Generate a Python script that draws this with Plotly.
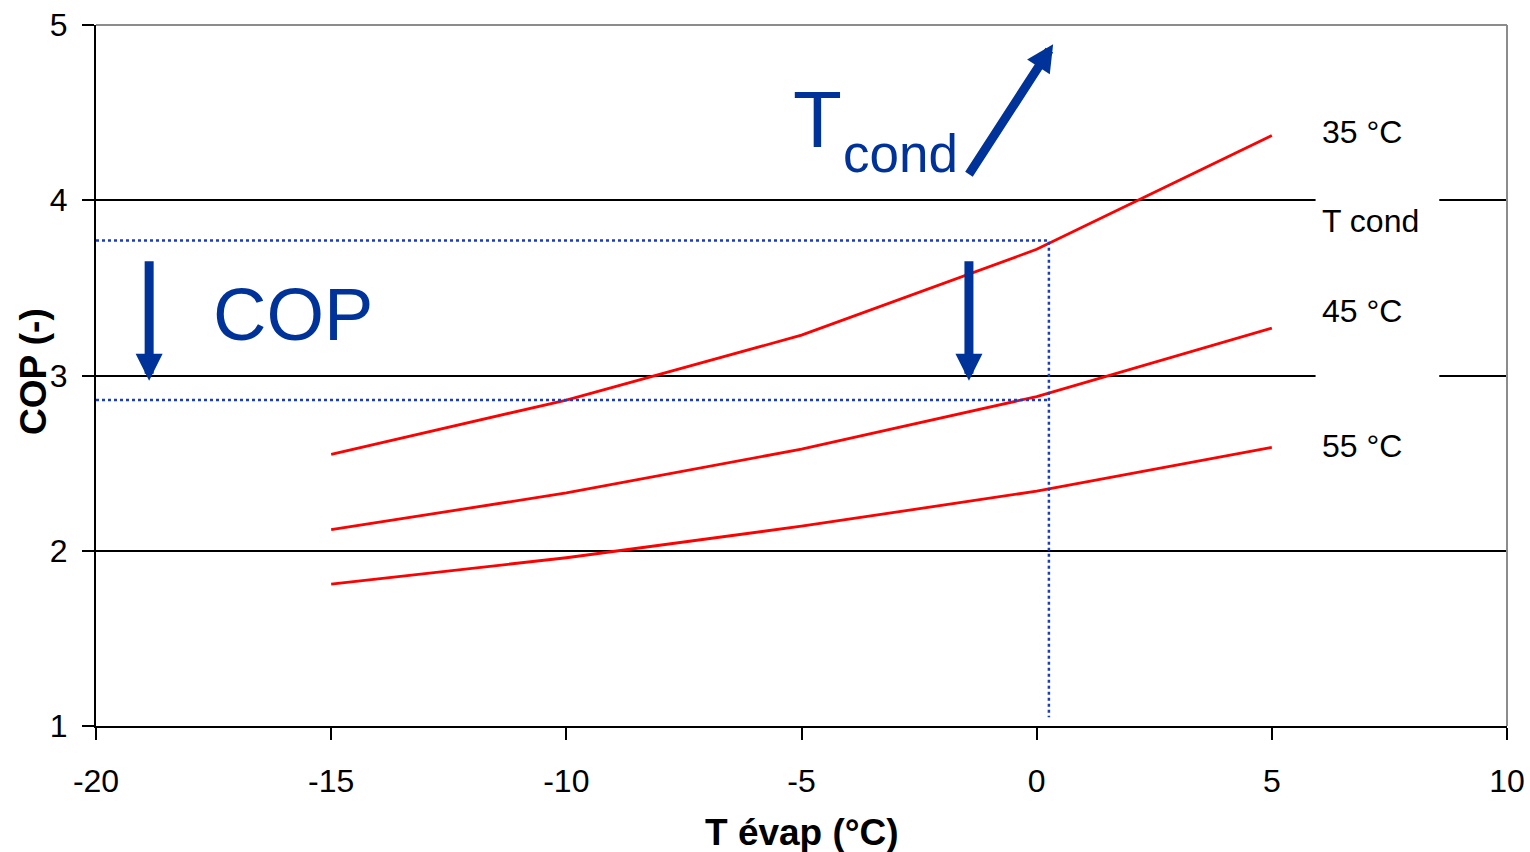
import plotly.graph_objects as go

t_evap = [-15, -10, -5, 0, 5]
cop_35 = [2.55, 2.86, 3.23, 3.72, 4.37]
cop_45 = [2.12, 2.33, 2.58, 2.88, 3.27]
cop_55 = [1.81, 1.96, 2.14, 2.34, 2.59]
series_labels = ["35 °C", "45 °C", "55 °C"]
label_y = [4.39, 3.37, 2.60]

x_ticks = [-20, -15, -10, -5, 0, 5, 10]
x_ticktext = ["-20", "-15", "-10", "-5", "0", "5", "10"]
y_ticks = [1, 2, 3, 4, 5]

# reading example
x_read = 0.26
cop_read_hi = 3.77
cop_read_lo = 2.86

FONT = "Liberation Sans, Arial, sans-serif"
BLUE = "#003399"
DOT = "#1A3CC0"

fig = go.Figure()
for ys in (cop_35, cop_45, cop_55):
    fig.add_trace(go.Scatter(x=t_evap, y=ys, mode="lines",
                             line=dict(color="#FF0000", width=2.8),
                             showlegend=False, hoverinfo="skip"))

fig.add_trace(go.Scatter(x=[-20, x_read, x_read], y=[cop_read_hi, cop_read_hi, 1.05],
                         mode="lines", line=dict(color=DOT, width=2.5, dash="dot"),
                         showlegend=False, hoverinfo="skip"))
fig.add_trace(go.Scatter(x=[-20, x_read], y=[cop_read_lo, cop_read_lo],
                         mode="lines", line=dict(color=DOT, width=2.5, dash="dot"),
                         showlegend=False, hoverinfo="skip"))

shapes = [
    dict(type="line", xref="paper", yref="paper", x0=0, x1=1, y0=1, y1=1,
         line=dict(color="#8C8C8C", width=2), layer="above"),
    dict(type="line", xref="paper", yref="paper", x0=1, x1=1, y0=0, y1=1,
         line=dict(color="#8C8C8C", width=2), layer="above"),
    dict(type="rect", x0=5.93, x1=8.56, y0=3.93, y1=4.07, fillcolor="white",
         line=dict(width=0), layer="between"),
    dict(type="rect", x0=5.93, x1=8.56, y0=2.93, y1=3.07, fillcolor="white",
         line=dict(width=0), layer="between"),
]

annotations = []
for lab, yy in zip(series_labels, label_y):
    annotations.append(dict(x=6.03, y=yy, text=lab, showarrow=False, xanchor="left",
                            yanchor="middle", font=dict(family=FONT, size=32, color="black")))
annotations.append(dict(x=6.03, y=3.88, text="T cond", showarrow=False, xanchor="left",
                        yanchor="middle", font=dict(family=FONT, size=32, color="black")))

for ax_x in (-18.87, -1.44):
    annotations.append(dict(x=ax_x, y=2.97, ax=ax_x, ay=3.66, xref="x", yref="y",
                            axref="x", ayref="y", text="", showarrow=True,
                            arrowhead=2, arrowsize=0.6, arrowwidth=9, arrowcolor=BLUE))
annotations.append(dict(x=0.35, y=4.89, ax=-1.46, ay=4.14, xref="x", yref="y",
                        axref="x", ayref="y", text="", showarrow=True,
                        arrowhead=2, arrowsize=0.6, arrowwidth=9, arrowcolor=BLUE))

annotations.append(dict(x=-15.81, y=3.35, text="COP", showarrow=False,
                        font=dict(family=FONT, size=74, color=BLUE)))
annotations.append(dict(x=-4.65, y=4.46, text="T", showarrow=False,
                        font=dict(family=FONT, size=80, color=BLUE)))
annotations.append(dict(x=-2.9, y=4.265, text="cond", showarrow=False,
                        font=dict(family=FONT, size=53, color=BLUE)))

annotations.append(dict(xref="paper", yref="paper", x=0.5, y=-0.1526, yanchor="middle",
                        text="<b>T évap (°C)</b>", showarrow=False,
                        font=dict(family=FONT, size=37, color="black")))
annotations.append(dict(xref="paper", yref="paper", x=-0.0439, xanchor="center", y=0.505,
                        text="<b>COP (-)</b>", showarrow=False, textangle=-90,
                        font=dict(family=FONT, size=37, color="black")))

fig.update_layout(
    width=1530, height=852,
    margin=dict(l=96, r=23, t=25, b=126),
    paper_bgcolor="white", plot_bgcolor="white",
    shapes=shapes, annotations=annotations,
    font=dict(family=FONT, size=31, color="black"),
    xaxis=dict(range=[-20, 10], tickvals=x_ticks, ticktext=x_ticktext,
               ticks="outside", ticklen=12, tickwidth=2, tickcolor="black",
               showline=True, linecolor="black", linewidth=2, showgrid=False,
               zeroline=False, tickfont=dict(family=FONT, size=32),
               ticklabelstandoff=14, automargin=False),
    yaxis=dict(range=[1, 5], tickvals=y_ticks,
               ticks="outside", ticklen=12, tickwidth=2, tickcolor="black",
               showline=True, linecolor="black", linewidth=2, showgrid=True,
               gridcolor="black", gridwidth=1.5, zeroline=False,
               tickfont=dict(family=FONT, size=32), ticklabelstandoff=8,
               automargin=False),
)

fig.write_html("out.html", config={"displayModeBar": False},
               post_script="document.body.style.margin='0';document.body.style.overflow='hidden';")
